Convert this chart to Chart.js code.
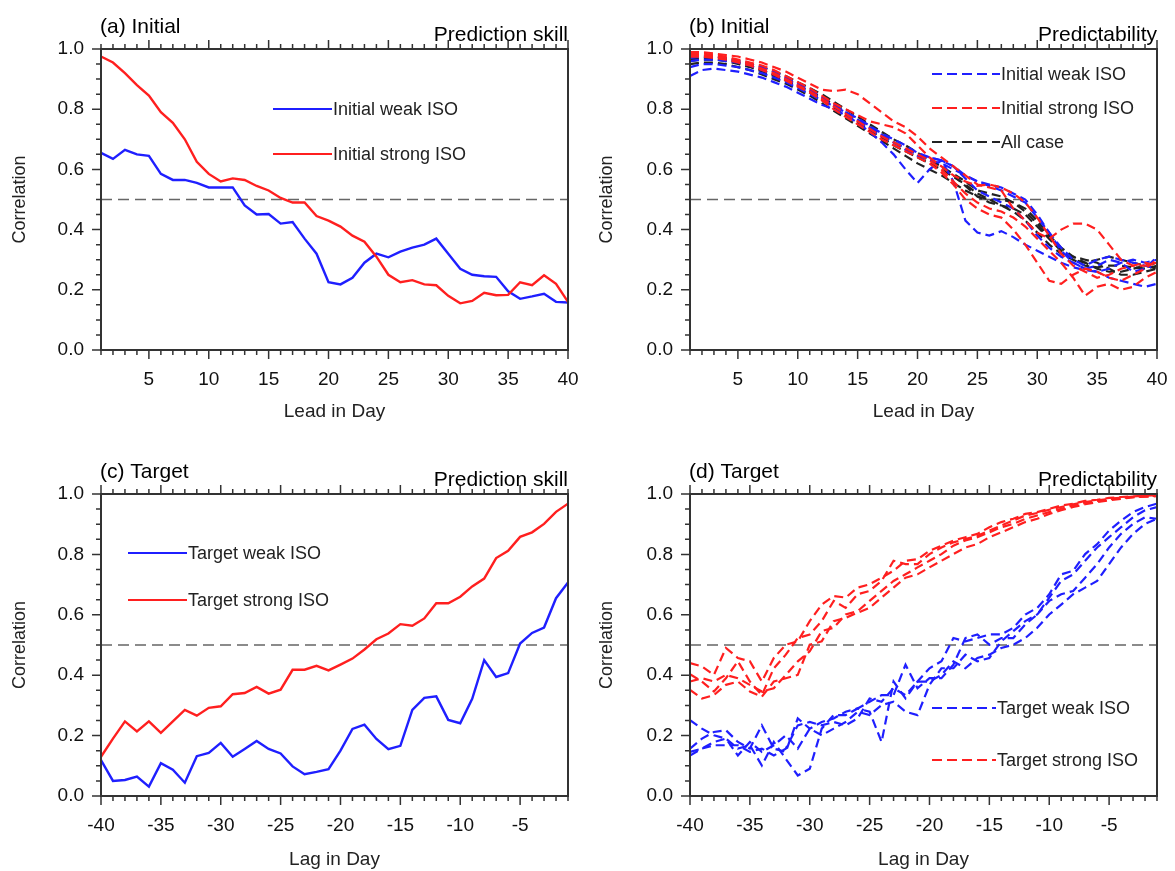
<!DOCTYPE html>
<html>
<head>
<meta charset="utf-8">
<script src="https://cdn.jsdelivr.net/npm/chart.js@4.4.0/dist/chart.umd.min.js"></script>
<style>
body { margin: 0; background: #fff; }
#wrap { position: relative; width: 1175px; height: 871px; overflow: hidden; }
canvas { position: absolute; }
</style>
</head>
<body>
<div id="wrap">
<canvas id="chartA" width="587" height="430" style="left:0px;top:0px"></canvas>
<canvas id="chartB" width="588" height="430" style="left:587px;top:0px"></canvas>
<canvas id="chartC" width="587" height="441" style="left:0px;top:430px"></canvas>
<canvas id="chartD" width="588" height="441" style="left:587px;top:430px"></canvas>
</div>
<script>
// eixos
var leadDays = [1,2,3,4,5,6,7,8,9,10,11,12,13,14,15,16,17,18,19,20,21,22,23,24,25,26,27,28,29,30,31,32,33,34,35,36,37,38,39,40];
var lagDays = [-40,-39,-38,-37,-36,-35,-34,-33,-32,-31,-30,-29,-28,-27,-26,-25,-24,-23,-22,-21,-20,-19,-18,-17,-16,-15,-14,-13,-12,-11,-10,-9,-8,-7,-6,-5,-4,-3,-2,-1];
var leadTicks = [5,10,15,20,25,30,35,40];
var lagTicks = [-40,-35,-30,-25,-20,-15,-10,-5];
var corrTicks = [0,0.2,0.4,0.6,0.8,1.0];
var threshold = 0.5;

// (a) Initial - Prediction skill
var initWeakSkill = [0.655,0.635,0.665,0.65,0.645,0.585,0.565,0.565,0.555,0.54,0.54,0.54,0.48,0.45,0.452,0.42,0.425,0.37,0.32,0.225,0.218,0.24,0.29,0.32,0.308,0.327,0.34,0.35,0.37,0.32,0.27,0.25,0.245,0.243,0.195,0.17,0.178,0.187,0.16,0.158];
var initStrongSkill = [0.975,0.955,0.92,0.88,0.845,0.79,0.755,0.70,0.625,0.585,0.56,0.57,0.565,0.545,0.53,0.505,0.49,0.49,0.445,0.43,0.41,0.38,0.36,0.31,0.25,0.225,0.232,0.218,0.215,0.18,0.155,0.163,0.19,0.182,0.183,0.225,0.215,0.248,0.22,0.16];

// (b) Initial - Predictability
var initWeakPred = [
  [0.91,0.93,0.935,0.93,0.925,0.915,0.905,0.89,0.875,0.855,0.835,0.815,0.8,0.78,0.755,0.725,0.69,0.65,0.6,0.555,0.6,0.63,0.61,0.57,0.53,0.51,0.49,0.47,0.43,0.38,0.34,0.31,0.29,0.27,0.26,0.24,0.23,0.22,0.21,0.22],
  [0.94,0.95,0.95,0.945,0.94,0.93,0.92,0.905,0.89,0.87,0.85,0.83,0.81,0.79,0.77,0.745,0.72,0.7,0.68,0.655,0.64,0.63,0.56,0.43,0.39,0.38,0.395,0.375,0.35,0.33,0.31,0.29,0.275,0.265,0.26,0.27,0.29,0.3,0.29,0.3],
  [0.96,0.965,0.965,0.96,0.955,0.945,0.93,0.915,0.9,0.88,0.86,0.835,0.81,0.785,0.76,0.735,0.71,0.69,0.67,0.65,0.64,0.63,0.61,0.58,0.56,0.545,0.53,0.51,0.49,0.44,0.39,0.34,0.3,0.28,0.3,0.31,0.3,0.29,0.28,0.27],
  [0.97,0.975,0.975,0.97,0.96,0.95,0.94,0.925,0.905,0.885,0.865,0.84,0.815,0.79,0.765,0.74,0.715,0.69,0.665,0.645,0.63,0.62,0.6,0.58,0.56,0.55,0.54,0.52,0.5,0.45,0.39,0.33,0.29,0.27,0.28,0.3,0.29,0.26,0.27,0.31]
];
var initStrongPred = [
  [0.99,0.99,0.985,0.98,0.975,0.965,0.955,0.94,0.925,0.905,0.885,0.865,0.86,0.865,0.85,0.82,0.79,0.76,0.74,0.71,0.67,0.64,0.61,0.58,0.55,0.54,0.53,0.47,0.43,0.39,0.37,0.4,0.42,0.42,0.4,0.35,0.3,0.28,0.28,0.29],
  [0.985,0.985,0.98,0.975,0.965,0.955,0.945,0.93,0.91,0.89,0.87,0.845,0.82,0.8,0.78,0.76,0.75,0.74,0.72,0.68,0.64,0.61,0.58,0.56,0.545,0.55,0.54,0.52,0.49,0.44,0.38,0.32,0.28,0.26,0.24,0.25,0.27,0.28,0.29,0.28],
  [0.98,0.98,0.975,0.97,0.96,0.95,0.935,0.92,0.9,0.88,0.86,0.835,0.81,0.785,0.76,0.735,0.71,0.69,0.67,0.65,0.63,0.6,0.56,0.52,0.49,0.47,0.46,0.44,0.41,0.37,0.33,0.29,0.24,0.18,0.21,0.22,0.2,0.21,0.24,0.26],
  [0.975,0.975,0.97,0.965,0.955,0.945,0.93,0.915,0.895,0.875,0.855,0.83,0.8,0.775,0.75,0.725,0.7,0.68,0.66,0.64,0.62,0.59,0.55,0.5,0.47,0.45,0.44,0.4,0.35,0.29,0.23,0.22,0.25,0.27,0.26,0.24,0.23,0.25,0.27,0.3]
];
var allCasePred = [
  [0.96,0.965,0.965,0.96,0.95,0.94,0.925,0.91,0.895,0.875,0.855,0.83,0.805,0.78,0.755,0.73,0.705,0.68,0.66,0.64,0.62,0.6,0.575,0.55,0.52,0.5,0.48,0.46,0.43,0.39,0.35,0.32,0.3,0.28,0.275,0.28,0.28,0.275,0.27,0.28],
  [0.97,0.975,0.975,0.97,0.96,0.95,0.94,0.925,0.91,0.89,0.87,0.85,0.825,0.8,0.775,0.75,0.725,0.7,0.68,0.655,0.635,0.61,0.58,0.545,0.51,0.49,0.48,0.47,0.45,0.41,0.37,0.33,0.3,0.29,0.3,0.31,0.3,0.29,0.28,0.29],
  [0.95,0.955,0.955,0.95,0.94,0.93,0.915,0.9,0.885,0.865,0.845,0.82,0.795,0.77,0.745,0.72,0.695,0.67,0.645,0.62,0.6,0.58,0.555,0.53,0.51,0.5,0.5,0.49,0.47,0.43,0.38,0.34,0.31,0.29,0.27,0.26,0.26,0.27,0.28,0.27],
  [0.965,0.97,0.97,0.965,0.955,0.945,0.93,0.915,0.9,0.88,0.86,0.84,0.815,0.79,0.765,0.74,0.715,0.69,0.67,0.65,0.63,0.61,0.585,0.56,0.53,0.52,0.51,0.49,0.46,0.42,0.37,0.33,0.31,0.3,0.29,0.27,0.25,0.25,0.26,0.27]
];

// (c) Target - Prediction skill
var targetWeakSkill = [0.119,0.05,0.053,0.064,0.031,0.109,0.087,0.044,0.132,0.143,0.176,0.13,0.156,0.182,0.156,0.141,0.098,0.072,0.08,0.089,0.15,0.222,0.236,0.189,0.155,0.166,0.285,0.325,0.33,0.252,0.241,0.322,0.45,0.394,0.407,0.505,0.54,0.558,0.655,0.707];
var targetStrongSkill = [0.13,0.19,0.247,0.214,0.247,0.209,0.247,0.285,0.266,0.292,0.297,0.337,0.341,0.361,0.339,0.352,0.418,0.418,0.431,0.416,0.435,0.455,0.485,0.519,0.538,0.569,0.564,0.588,0.638,0.638,0.66,0.694,0.72,0.788,0.812,0.858,0.873,0.901,0.941,0.968];

// (d) Target - Predictability
var targetWeakPred = [
  [0.251,0.223,0.201,0.19,0.157,0.168,0.101,0.179,0.123,0.068,0.09,0.223,0.268,0.268,0.29,0.279,0.179,0.379,0.323,0.379,0.423,0.446,0.523,0.512,0.523,0.535,0.535,0.557,0.601,0.623,0.668,0.734,0.746,0.801,0.834,0.879,0.912,0.94,0.957,0.968],
  [0.157,0.19,0.212,0.218,0.179,0.157,0.234,0.157,0.146,0.257,0.223,0.245,0.257,0.279,0.29,0.312,0.334,0.334,0.435,0.357,0.39,0.39,0.435,0.523,0.535,0.501,0.523,0.523,0.568,0.601,0.657,0.712,0.734,0.779,0.823,0.857,0.89,0.923,0.946,0.957],
  [0.146,0.157,0.179,0.19,0.134,0.179,0.146,0.168,0.201,0.157,0.223,0.201,0.223,0.245,0.279,0.268,0.301,0.312,0.279,0.268,0.368,0.423,0.423,0.468,0.446,0.457,0.512,0.546,0.579,0.601,0.646,0.668,0.679,0.723,0.768,0.823,0.868,0.901,0.923,0.918],
  [0.134,0.157,0.168,0.168,0.168,0.146,0.157,0.134,0.157,0.234,0.245,0.234,0.245,0.234,0.257,0.323,0.312,0.357,0.334,0.379,0.379,0.401,0.446,0.423,0.457,0.468,0.49,0.501,0.523,0.557,0.601,0.634,0.668,0.69,0.712,0.768,0.823,0.868,0.901,0.918]
];
var targetStrongPred = [
  [0.44,0.429,0.401,0.49,0.457,0.446,0.379,0.457,0.501,0.512,0.579,0.634,0.662,0.657,0.69,0.701,0.723,0.746,0.779,0.784,0.812,0.829,0.846,0.857,0.868,0.89,0.907,0.918,0.934,0.94,0.951,0.962,0.968,0.977,0.981,0.987,0.99,0.992,0.994,0.996],
  [0.403,0.379,0.346,0.39,0.446,0.379,0.334,0.423,0.468,0.523,0.535,0.579,0.646,0.623,0.668,0.679,0.712,0.779,0.768,0.768,0.801,0.823,0.84,0.851,0.862,0.879,0.896,0.912,0.929,0.937,0.948,0.957,0.966,0.973,0.979,0.984,0.988,0.991,0.993,0.994],
  [0.379,0.39,0.379,0.401,0.39,0.368,0.346,0.357,0.401,0.446,0.479,0.546,0.557,0.601,0.612,0.646,0.679,0.712,0.734,0.757,0.779,0.801,0.829,0.846,0.857,0.873,0.89,0.901,0.918,0.929,0.94,0.951,0.962,0.97,0.977,0.982,0.987,0.99,0.992,0.994],
  [0.351,0.323,0.334,0.368,0.379,0.346,0.329,0.379,0.39,0.401,0.501,0.512,0.579,0.59,0.607,0.623,0.657,0.69,0.723,0.734,0.757,0.779,0.801,0.823,0.834,0.857,0.873,0.89,0.907,0.918,0.934,0.946,0.957,0.966,0.973,0.979,0.984,0.989,0.991,0.993]
];

var FONT = '"Liberation Sans", Arial, Helvetica, sans-serif';
var AZUL = '#1f1fff';
var VERMELHO = '#ff1f1f';
var PRETO = '#222222';

function pontos(xs, ys) {
    return ys.map(function (v, i) { return { x: xs[i], y: v }; });
}

// moldura com ticks maiores e menores (estilo NCL)
var molduraPlugin = {
    id: 'moldura',
    afterDatasetsDraw: function (chart) {
        var ctx = chart.ctx, a = chart.chartArea, x = chart.scales.x, y = chart.scales.y;
        ctx.save();
        ctx.strokeStyle = '#333';
        ctx.lineWidth = 2;
        ctx.strokeRect(a.left, a.top, a.right - a.left, a.bottom - a.top);
        ctx.lineWidth = 1.5;
        ctx.beginPath();
        for (var v = Math.ceil(x.min); v <= x.max; v++) {
            var px = x.getPixelForValue(v);
            var len = (v % 5 === 0) ? 9 : 5;
            ctx.moveTo(px, a.bottom); ctx.lineTo(px, a.bottom + len);
            ctx.moveTo(px, a.top); ctx.lineTo(px, a.top - len);
        }
        for (var k = 0; k <= 20; k++) {
            var py = y.getPixelForValue(k * 0.05);
            var l = (k % 4 === 0) ? 9 : 5;
            ctx.moveTo(a.left, py); ctx.lineTo(a.left - l, py);
        }
        ctx.stroke();
        ctx.restore();
    }
};

var tituloPlugin = {
    id: 'tituloPainel',
    afterDraw: function (chart, args, opts) {
        var ctx = chart.ctx, a = chart.chartArea;
        ctx.save();
        ctx.font = '21px ' + FONT;
        ctx.fillStyle = '#000';
        ctx.textBaseline = 'alphabetic';
        ctx.textAlign = 'left';
        ctx.fillText(opts.esquerda, a.left - 1, a.top - 16);
        ctx.textAlign = 'right';
        ctx.fillText(opts.direita, a.right, a.top - 8);
        ctx.restore();
    }
};

var legendaPlugin = {
    id: 'legendaNcl',
    afterDraw: function (chart, args, opts) {
        var ctx = chart.ctx, a = chart.chartArea;
        ctx.save();
        ctx.font = '18px ' + FONT;
        ctx.textBaseline = 'middle';
        ctx.textAlign = 'left';
        for (var i = 0; i < opts.textos.length; i++) {
            var x0 = a.left + opts.x;
            var y0 = a.top + opts.y + i * opts.passo;
            ctx.strokeStyle = opts.cores[i];
            ctx.lineWidth = 2.2;
            ctx.setLineDash(opts.tracejado ? [10, 5] : []);
            ctx.beginPath();
            ctx.moveTo(x0, y0);
            ctx.lineTo(x0 + opts.comprimento, y0);
            ctx.stroke();
            ctx.fillStyle = '#222';
            ctx.fillText(opts.textos[i], x0 + opts.comprimento + 1, y0 + 1);
        }
        ctx.restore();
    }
};

function linhaLimite(xs) {
    return {
        data: [{ x: xs[0], y: threshold }, { x: xs[xs.length - 1], y: threshold }],
        borderColor: '#666',
        borderWidth: 1.5,
        borderDash: [11, 6],
        pointRadius: 0
    };
}

function serie(xs, ys, cor, tracejado) {
    return {
        data: pontos(xs, ys),
        borderColor: cor,
        borderWidth: tracejado ? 2.2 : 2.4,
        borderDash: tracejado ? [9, 5] : [],
        pointRadius: 0,
        tension: 0
    };
}

function criarPainel(id, cfg) {
    return new Chart(document.getElementById(id), {
        type: 'line',
        data: { datasets: cfg.datasets },
        options: {
            responsive: false,
            animation: false,
            layout: { padding: { top: cfg.padTop, right: cfg.padRight, left: 0, bottom: 0 } },
            plugins: {
                legend: { display: false },
                tooltip: { enabled: false },
                tituloPainel: cfg.titulo,
                legendaNcl: cfg.legenda
            },
            scales: {
                x: {
                    type: 'linear',
                    min: cfg.xs[0],
                    max: cfg.xs[cfg.xs.length - 1],
                    afterBuildTicks: function (scale) {
                        scale.ticks = cfg.xTicks.map(function (v) { return { value: v }; });
                    },
                    afterFit: function (scale) {
                        scale.height = cfg.xAltura;
                        scale.paddingLeft = 0;
                        scale.paddingRight = 0;
                    },
                    grid: { display: false, drawTicks: false },
                    border: { display: false },
                    ticks: { color: '#111', font: { family: FONT, size: 19 }, padding: 18, maxRotation: 0, autoSkip: false },
                    title: { display: true, text: cfg.xTitulo, color: '#222', font: { family: FONT, size: 19 }, padding: { top: 0, bottom: cfg.xTituloPad } }
                },
                y: {
                    min: 0,
                    max: 1,
                    afterBuildTicks: function (scale) {
                        scale.ticks = corrTicks.map(function (v) { return { value: v }; });
                    },
                    afterFit: function (scale) {
                        scale.width = cfg.yLargura;
                        scale.paddingTop = 0;
                        scale.paddingBottom = 0;
                    },
                    grid: { display: false, drawTicks: false },
                    border: { display: false },
                    ticks: {
                        color: '#111', font: { family: FONT, size: 19 }, padding: 17,
                        callback: function (v) { return Number(v).toFixed(1); }
                    },
                    title: { display: true, text: 'Correlation', color: '#222', font: { family: FONT, size: 18 }, padding: { top: 9, bottom: 0 } }
                }
            }
        },
        plugins: [molduraPlugin, tituloPlugin, legendaPlugin]
    });
}

// Painel (a)
criarPainel('chartA', {
    xs: leadDays, xTicks: leadTicks, xTitulo: 'Lead in Day', xAltura: 80, xTituloPad: 7,
    yLargura: 101, padTop: 49, padRight: 19,
    datasets: [
        serie(leadDays, initStrongSkill, VERMELHO, false),
        serie(leadDays, initWeakSkill, AZUL, false),
        linhaLimite(leadDays)
    ],
    titulo: { esquerda: '(a) Initial', direita: 'Prediction skill' },
    legenda: { x: 172, y: 60, passo: 45, comprimento: 59, tracejado: false,
        textos: ['Initial weak ISO', 'Initial strong ISO'], cores: [AZUL, VERMELHO] }
});

// Painel (b)
var dadosB = [];
initStrongPred.forEach(function (m) { dadosB.push(serie(leadDays, m, VERMELHO, true)); });
initWeakPred.forEach(function (m) { dadosB.push(serie(leadDays, m, AZUL, true)); });
allCasePred.forEach(function (m) { dadosB.push(serie(leadDays, m, PRETO, true)); });
dadosB.push(linhaLimite(leadDays));

criarPainel('chartB', {
    xs: leadDays, xTicks: leadTicks, xTitulo: 'Lead in Day', xAltura: 80, xTituloPad: 7,
    yLargura: 103, padTop: 49, padRight: 18,
    datasets: dadosB,
    titulo: { esquerda: '(b) Initial', direita: 'Predictability' },
    legenda: { x: 242, y: 25, passo: 34, comprimento: 68, tracejado: true,
        textos: ['Initial weak ISO', 'Initial strong ISO', 'All case'], cores: [AZUL, VERMELHO, PRETO] }
});

// Painel (c)
criarPainel('chartC', {
    xs: lagDays, xTicks: lagTicks, xTitulo: 'Lag in Day', xAltura: 75, xTituloPad: 0,
    yLargura: 101, padTop: 64, padRight: 19,
    datasets: [
        serie(lagDays, targetStrongSkill, VERMELHO, false),
        serie(lagDays, targetWeakSkill, AZUL, false),
        linhaLimite(lagDays)
    ],
    titulo: { esquerda: '(c) Target', direita: 'Prediction skill' },
    legenda: { x: 27, y: 59, passo: 47, comprimento: 59, tracejado: false,
        textos: ['Target weak ISO', 'Target strong ISO'], cores: [AZUL, VERMELHO] }
});

// Painel (d)
var dadosD = [];
targetStrongPred.forEach(function (m) { dadosD.push(serie(lagDays, m, VERMELHO, true)); });
targetWeakPred.forEach(function (m) { dadosD.push(serie(lagDays, m, AZUL, true)); });
dadosD.push(linhaLimite(lagDays));

criarPainel('chartD', {
    xs: lagDays, xTicks: lagTicks, xTitulo: 'Lag in Day', xAltura: 75, xTituloPad: 0,
    yLargura: 103, padTop: 64, padRight: 18,
    datasets: dadosD,
    titulo: { esquerda: '(d) Target', direita: 'Predictability' },
    legenda: { x: 242, y: 214, passo: 52, comprimento: 64, tracejado: true,
        textos: ['Target weak ISO', 'Target strong ISO'], cores: [AZUL, VERMELHO] }
});
</script>
</body>
</html>
